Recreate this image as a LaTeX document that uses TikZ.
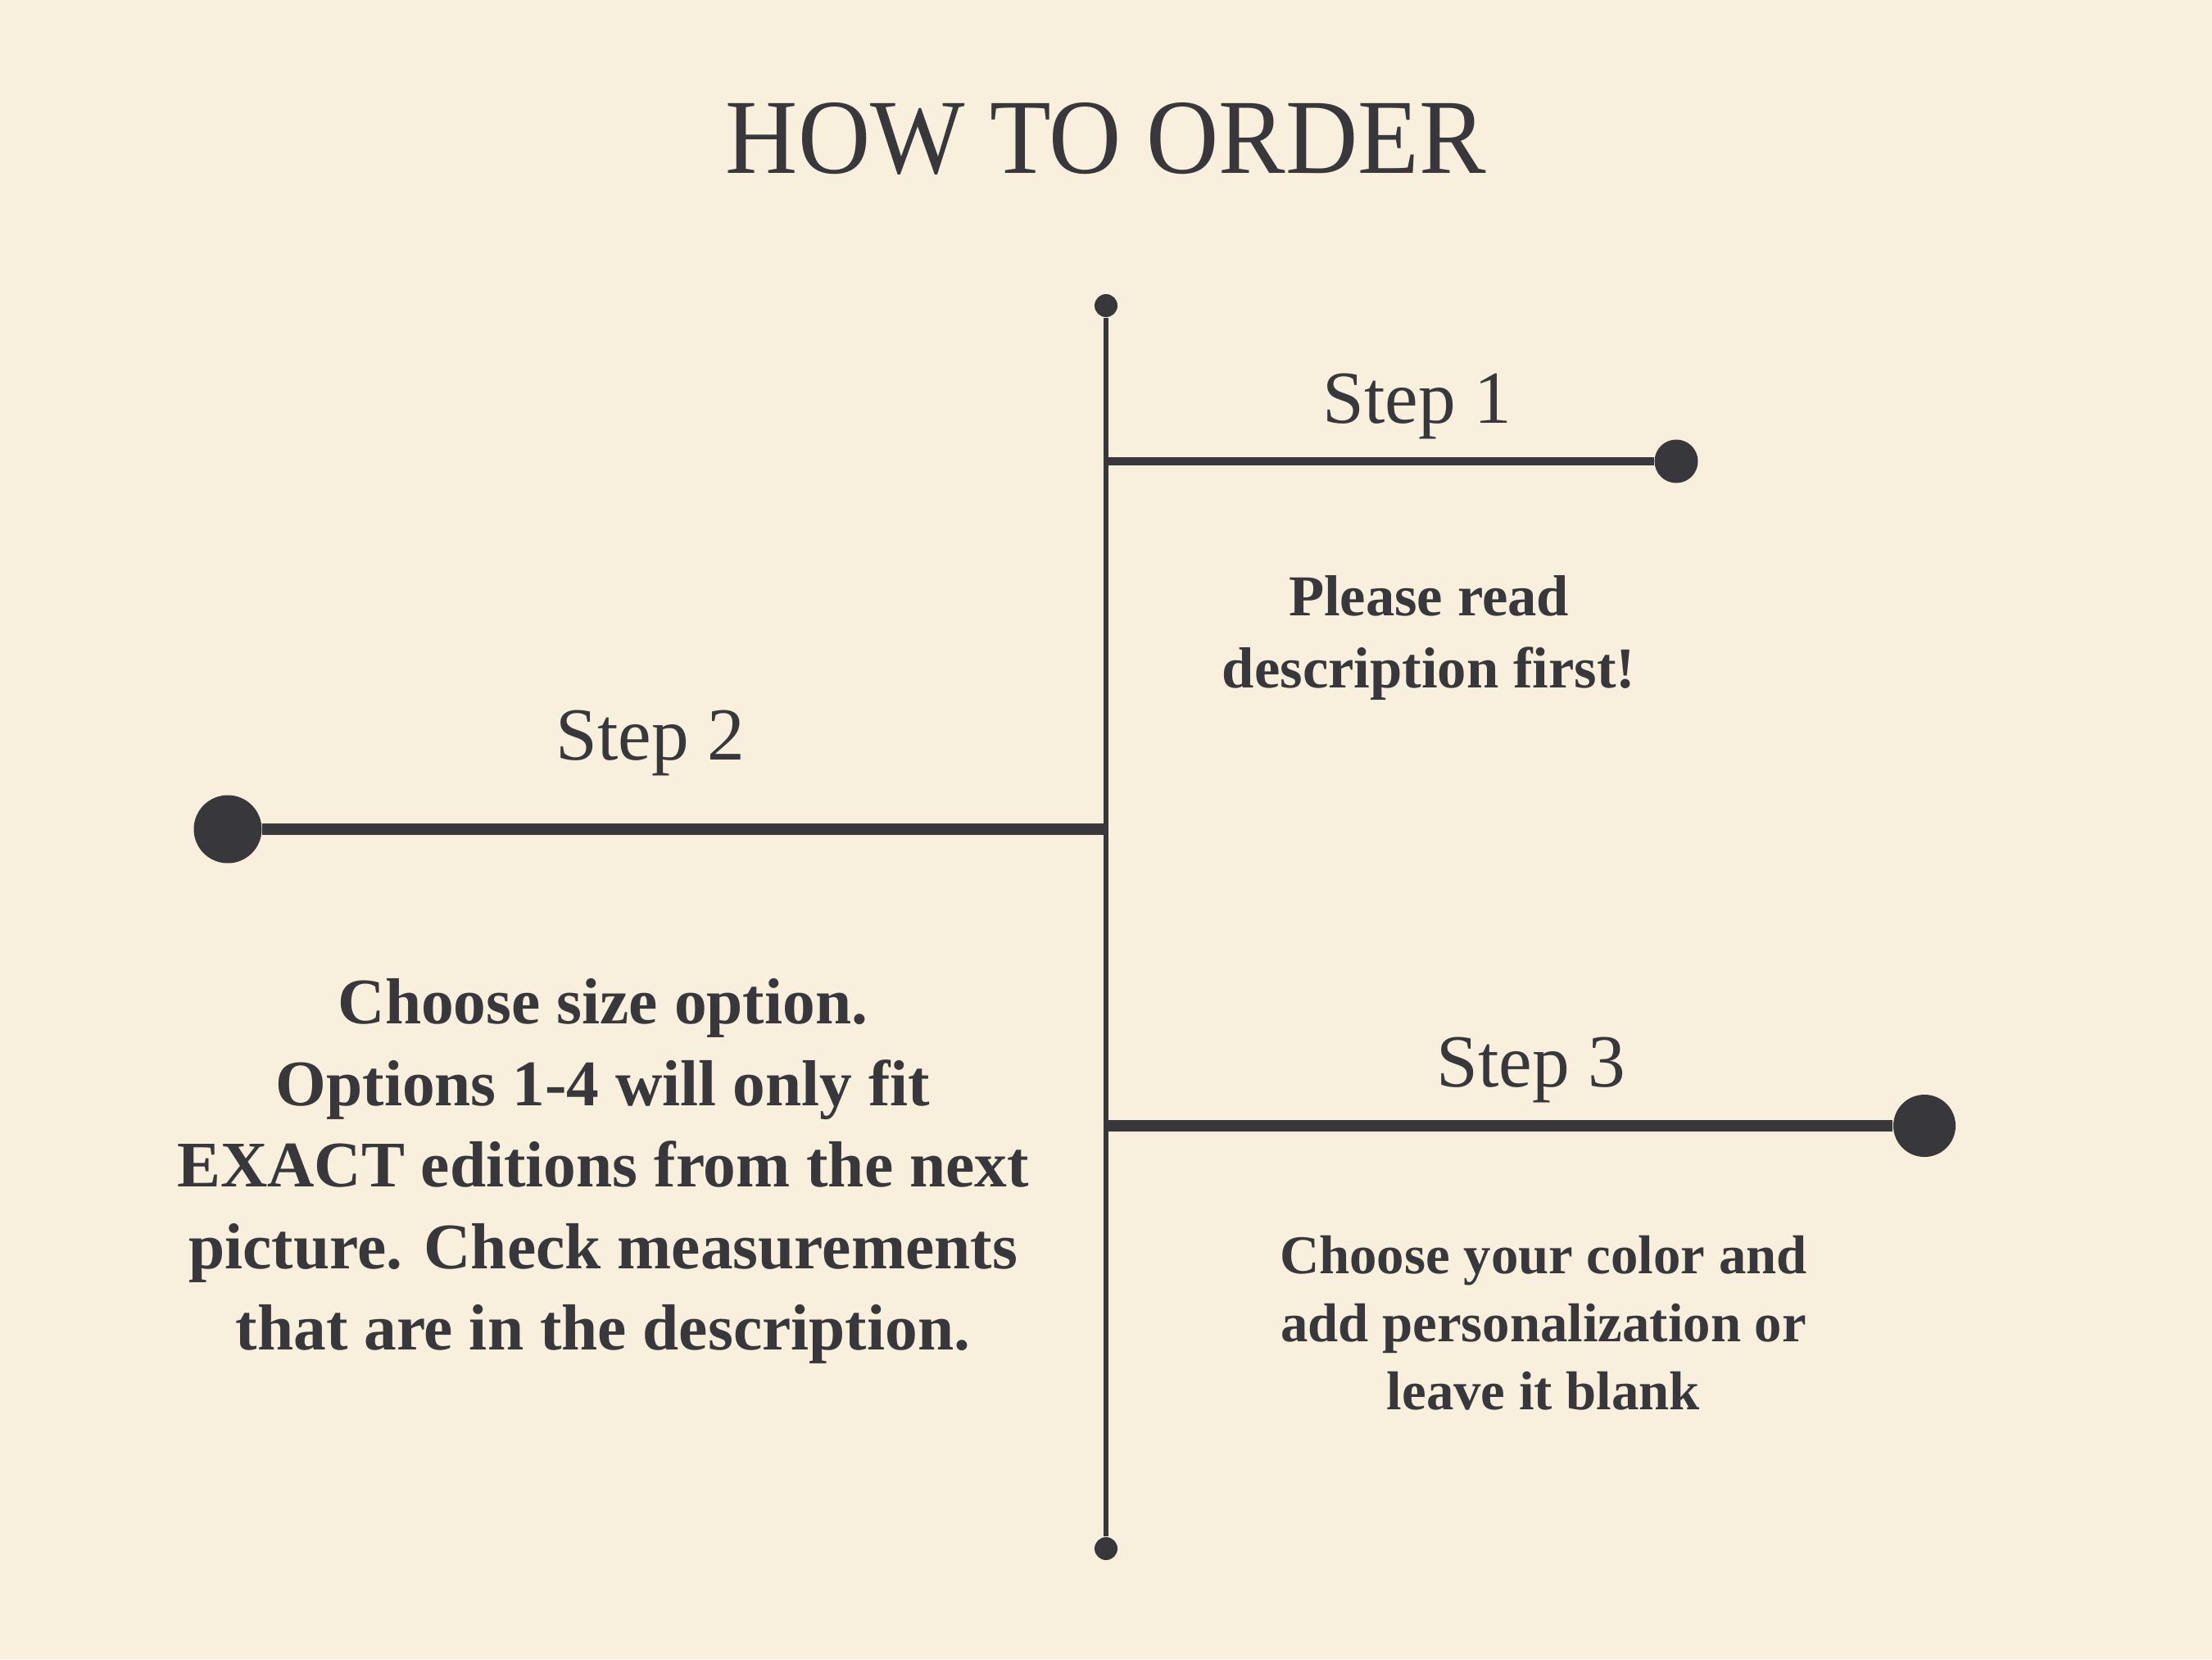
\documentclass[tikz,border=0pt]{standalone}
\usepackage{fontspec}
\usepackage{tikz}
\usetikzlibrary{calc}
\usetikzlibrary{positioning}
\usepackage{xcolor}
\setmainfont{Liberation Serif}
\newfontfamily\titlefont[FakeStretch=0.94]{Liberation Serif}
\definecolor{paper}{RGB}{248,239,221}
\definecolor{ink}{RGB}{56,55,60}

\begin{document}
\begin{tikzpicture}[
    % Dots at the ends of the lines
    end_dot/.style={circle, fill=ink, draw=none, inner sep=0pt},
    % Text styles
    title_label/.style={font=\titlefont\fontsize{37}{44}\selectfont, text=ink, inner sep=0pt},
    step_label/.style={font=\fontsize{26}{31}\selectfont, text=ink, inner sep=0pt},
    note_block/.style={align=center, text=ink, inner sep=0pt, anchor=north}
]
    \useasboundingbox[fill=paper] (0,0) rectangle (27,20.25);

    % --- 1. TITLE ---
    \node[title_label, anchor=base] (title) at (13.5,18.13) {HOW TO ORDER};

    % --- 2. SPINE ---
    \node[end_dot, minimum size=0.28cm] (top) at (13.5,16.52) {};
    \node[end_dot, minimum size=0.28cm] (bot) at (13.5,1.35) {};
    \draw[draw=ink, line width=1.85pt] (top) -- (bot);

    % --- 3. BRANCHES ---
    \coordinate (j1) at (13.5,14.62);
    \coordinate (j2) at (13.5,10.13);
    \coordinate (j3) at (13.5,6.51);
    \node[end_dot, minimum size=0.53cm] (d1) at (20.46,14.62) {};
    \node[end_dot, minimum size=0.83cm] (d2) at (2.78,10.13) {};
    \node[end_dot, minimum size=0.76cm] (d3) at (23.49,6.51) {};
    \draw[draw=ink, line width=3.1pt] (j1) -- (d1);
    \draw[draw=ink, line width=4.2pt] (j2) -- (d2);
    \draw[draw=ink, line width=3.9pt] (j3) -- (d3);

    % --- 4. STEP LABELS ---
    \node[step_label, anchor=base] (s1) at (17.30,15.09) {Step 1};
    \node[step_label, anchor=base] (s2) at (7.94,10.98) {Step 2};
    \node[step_label, anchor=base] (s3) at (18.69,6.99) {Step 3};

    % --- 5. NOTES ---
    \node[note_block, font=\bfseries\fontsize{20.1}{25}\selectfont] (t1) at (17.44,13.23)
        {Please read\\description first!};
    \node[note_block, font=\bfseries\fontsize{22.6}{28.3}\selectfont] (t2) at (7.36,8.31)
        {Choose size option.\\Options 1-4 will only fit\\EXACT editions from the next\\picture. Check measurements\\that are in the description.};
    \node[note_block, font=\bfseries\fontsize{19}{23.7}\selectfont] (t3) at (18.84,5.18)
        {Choose your color and\\add personalization or\\leave it blank};

\end{tikzpicture}
\end{document}
